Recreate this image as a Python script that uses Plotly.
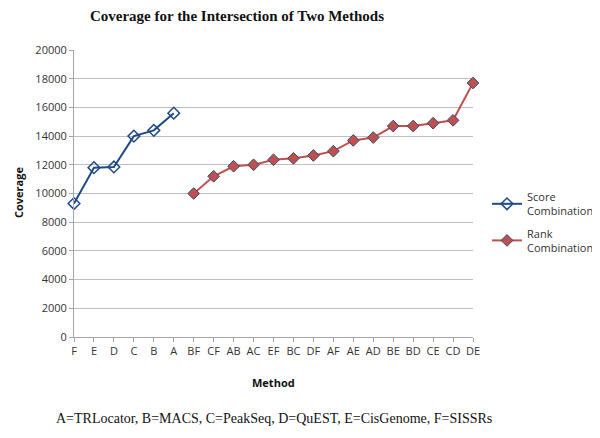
import plotly.graph_objects as go

categories = ["F", "E", "D", "C", "B", "A", "BF", "CF", "AB", "AC", "EF", "BC",
              "DF", "AF", "AE", "AD", "BE", "BD", "CE", "CD", "DE"]
score_methods = ["F", "E", "D", "C", "B", "A"]
score_values = [9300, 11800, 11850, 14000, 14400, 15600]
rank_methods = ["BF", "CF", "AB", "AC", "EF", "BC", "DF", "AF", "AE", "AD",
                "BE", "BD", "CE", "CD", "DE"]
rank_values = [10000, 11200, 11900, 12000, 12350, 12450, 12650, 12950, 13700,
               13900, 14700, 14700, 14900, 15100, 17700]
y_ticks = [0, 2000, 4000, 6000, 8000, 10000, 12000, 14000, 16000, 18000, 20000]

# page renders with ~8px offset; compensate in margins
OFF = 8
L, R_EDGE, T, B_EDGE = 74 - OFF, 473 - OFF, 50 - OFF, 337 - OFF
PW, PH = R_EDGE - L, B_EDGE - T

fig = go.Figure()
fig.add_trace(go.Scatter(
    x=score_methods, y=score_values, mode="lines+markers",
    name="Score<br>Combination", cliponaxis=False, legendgroup="s",
    line=dict(color="#1f4a86", width=2),
    marker=dict(symbol="diamond-open", size=9, color="#1f4a86",
                line=dict(width=1.5, color="#1f4a86")),
))
fig.add_trace(go.Scatter(
    x=rank_methods, y=rank_values, mode="lines+markers",
    name="Rank<br>Combination", cliponaxis=False, legendgroup="r",
    line=dict(color="#c0504d", width=2),
    marker=dict(symbol="diamond", size=9, color="#c0504d",
                line=dict(width=1, color="#2e4a7a")),
))

fig.update_layout(
    width=600, height=438,
    margin=dict(l=L, r=600 - R_EDGE, t=T, b=438 - B_EDGE, autoexpand=False),
    paper_bgcolor="white", plot_bgcolor="white",
    font=dict(family="Open Sans, Liberation Sans, sans-serif", size=10, color="#333333"),
    title=dict(text="<b>Coverage for the Intersection of Two Methods</b>",
               xref="container", x=(237 - OFF) / 600, xanchor="center",
               yref="container", y=1 - 2 / 438, yanchor="top", pad=dict(t=0),
               font=dict(family="Liberation Serif, Times New Roman, serif", size=15, color="#111111")),
    showlegend=True,
    legend=dict(x=(487 - OFF - L) / PW, y=(337 - 183) / 287, xanchor="left", yanchor="top",
                font=dict(size=11, color="#333333"), tracegroupgap=5,
                bgcolor="rgba(0,0,0,0)"),
    xaxis=dict(type="category", categoryorder="array", categoryarray=categories,
               range=[0, len(categories) - 1], showgrid=False, automargin=False,
               showline=True, linecolor="#a6a6a6", linewidth=1,
               ticks="outside", ticklen=4, tickcolor="#a6a6a6",
               tickfont=dict(size=11, color="#333333"), zeroline=False),
    yaxis=dict(range=[0, 20000], tickvals=y_ticks, ticktext=[str(v) for v in y_ticks],
               showgrid=True, automargin=False,
               gridcolor="#bfbfbf", gridwidth=1,
               showline=True, linecolor="#a6a6a6", linewidth=1,
               ticks="outside", ticklen=4, tickcolor="#a6a6a6",
               tickfont=dict(size=11, color="#333333"), zeroline=False),
    annotations=[
        dict(text="<b>Coverage</b>", x=-(74 - 18) / PW, y=(337 - 193) / PH,
             xref="paper", yref="paper", xanchor="center", yanchor="middle",
             showarrow=False, textangle=-90, font=dict(size=11, color="#111111")),
        dict(text="<b>Method</b>", x=0.5, y=-45 / PH, xref="paper", yref="paper",
             xanchor="center", yanchor="middle", showarrow=False,
             font=dict(size=11, color="#111111")),
        dict(text="A=TRLocator, B=MACS, C=PeakSeq, D=QuEST, E=CisGenome, F=SISSRs",
             x=(274 - 74) / PW, y=-(418 - 337) / PH, xref="paper", yref="paper",
             xanchor="center", yanchor="middle", showarrow=False,
             font=dict(family="Liberation Serif, Times New Roman, serif", size=14, color="#111111")),
    ],
)

fig.write_html("out.html")
